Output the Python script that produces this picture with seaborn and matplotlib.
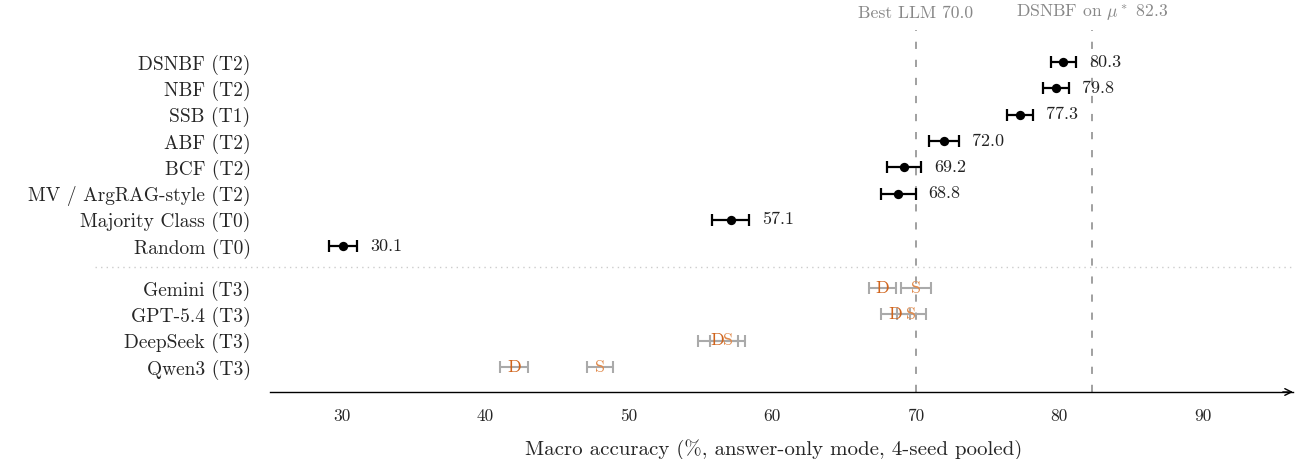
import matplotlib
matplotlib.use("Agg")
import matplotlib.pyplot as plt
import matplotlib.transforms as mtransforms
import seaborn as sns
import pandas as pd

# ---- data ----
methods = ["DSNBF (T2)", "NBF (T2)", "SSB (T1)", "ABF (T2)", "BCF (T2)",
           "MV / ArgRAG-style (T2)", "Majority Class (T0)", "Random (T0)"]
method_acc = [80.3, 79.8, 77.3, 72.0, 69.2, 68.8, 57.1, 30.1]
method_ci = [0.9, 0.9, 0.9, 1.05, 1.2, 1.2, 1.3, 1.0]

llms = ["Gemini (T3)", "GPT-5.4 (T3)", "DeepSeek (T3)", "Qwen3 (T3)"]
llm_d_acc = [67.7, 68.6, 56.2, 42.0]
llm_d_ci = [0.95, 1.0, 1.4, 1.0]
llm_s_acc = [70.0, 69.7, 56.9, 48.0]
llm_s_ci = [1.05, 1.0, 1.2, 0.9]

best_llm = 70.0
dsnbf_mu = 82.3
xticks = [30, 40, 50, 60, 70, 80, 90]

# ---- style ----
sns.set_theme(style="white")
plt.rcParams["font.family"] = ["cmr10", "DejaVu Serif"]
plt.rcParams["mathtext.fontset"] = "cm"
plt.rcParams["axes.formatter.use_mathtext"] = True

method_pos = list(range(len(methods)))
llm_pos = [8.6 + i for i in range(len(llms))]
sep_pos = 7.8

df_m = pd.DataFrame({"name": methods, "acc": method_acc, "ci": method_ci, "pos": method_pos})
df_l = pd.DataFrame({"name": llms, "d": llm_d_acc, "dci": llm_d_ci,
                     "s": llm_s_acc, "sci": llm_s_ci, "pos": llm_pos})

fig = plt.figure(figsize=(12.96, 4.59), dpi=100)
ax = fig.add_axes([0.2083, 0.146, 0.7894, 0.7885])

# methods: error bars + dots
ax.errorbar(df_m["acc"], df_m["pos"], xerr=df_m["ci"], fmt="none",
            ecolor="black", elinewidth=1.6, capsize=4.5, capthick=1.6, zorder=3)
sns.scatterplot(data=df_m, x="acc", y="pos", ax=ax, color="black", s=45,
                edgecolor="black", linewidth=0, zorder=4, legend=False)
for _, r in df_m.iterrows():
    ax.annotate(f"{r['acc']:.1f}", xy=(r["acc"] + r["ci"], r["pos"]),
                xytext=(9, 0), textcoords="offset points", ha="left", va="center",
                fontsize=13, color="#222222")

# LLMs: grey bars + letters
ax.errorbar(df_l["d"], df_l["pos"], xerr=df_l["dci"], fmt="none",
            ecolor="#aaaaaa", elinewidth=1.5, capsize=4.5, capthick=1.5, zorder=2)
ax.errorbar(df_l["s"], df_l["pos"], xerr=df_l["sci"], fmt="none",
            ecolor="#aaaaaa", elinewidth=1.5, capsize=4.5, capthick=1.5, zorder=2)
for _, r in df_l.iterrows():
    ax.text(r["d"], r["pos"], "D", ha="center", va="center", fontsize=13,
            color="#d0641c", zorder=5)
    ax.text(r["s"], r["pos"], "S", ha="center", va="center", fontsize=13,
            color="#e08a4c", zorder=5)

# reference lines
for xv, lab in [(best_llm, f"Best LLM {best_llm:.1f}"),
                (dsnbf_mu, r"DSNBF on $\mu^*$ " + f"{dsnbf_mu:.1f}")]:
    ax.axvline(xv, color="#999999", lw=1.3, dashes=(4, 6), zorder=1)
    ax.annotate(lab, xy=(xv, 1.0), xycoords=("data", "axes fraction"),
                xytext=(0, 12), textcoords="offset points", ha="center",
                va="center", fontsize=12.7, color="#888888")

# separator
trans = mtransforms.blended_transform_factory(ax.transAxes, ax.transData)
ax.plot([-0.171, 1.0], [sep_pos, sep_pos], transform=trans, color="#cccccc",
        lw=1.0, linestyle=(0, (1, 3)), clip_on=False, zorder=1)

# axes
ax.set_xlim(25, 96.3)
ax.set_ylim(12.55, -1.22)
ax.set_yticks(method_pos + llm_pos)
ax.set_yticklabels(methods + llms, fontsize=14)
ax.set_xticks(xticks)
ax.set_xticklabels([str(t) for t in xticks], fontsize=12.5)
ax.set_ylabel("")
ax.tick_params(axis="y", length=0, pad=14)
ax.tick_params(axis="x", direction="out", length=5, width=1.0, color="#333333", pad=7)
for sp in ["top", "right", "left"]:
    ax.spines[sp].set_visible(False)
ax.spines["bottom"].set_color("black")
ax.spines["bottom"].set_linewidth(1.0)
ax.annotate("", xy=(1.0, 0), xycoords="axes fraction", xytext=(0.99, 0),
            arrowprops=dict(arrowstyle="->", color="black", lw=1.0,
                            shrinkA=0, shrinkB=0), annotation_clip=False)
ax.set_xlabel("Macro accuracy (%, answer-only mode, 4-seed pooled)", fontsize=15)
ax.xaxis.set_label_coords(0.492, -0.16)
ax.xaxis.label.set_verticalalignment("center")
ax.grid(False)

fig.savefig("out.png", dpi=100)
